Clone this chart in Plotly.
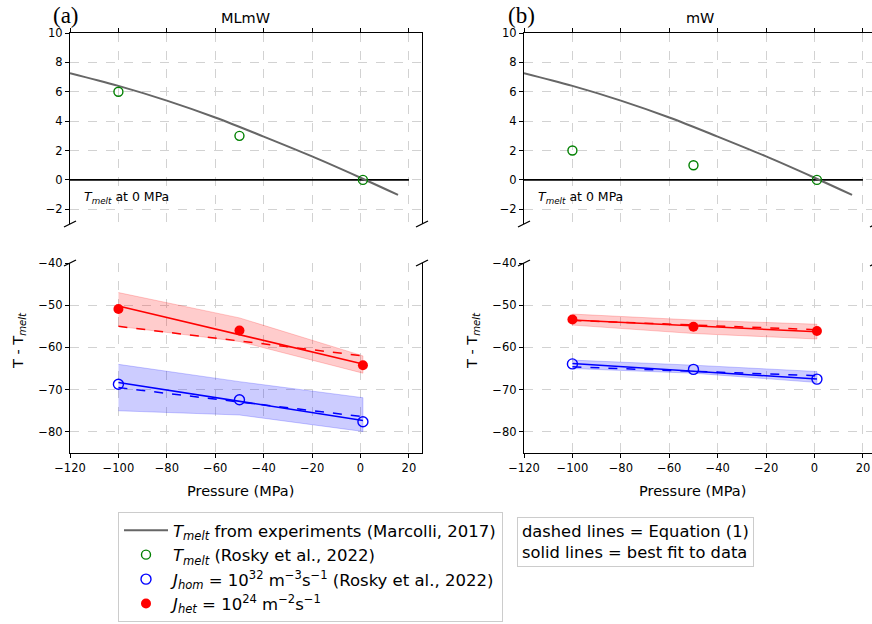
import plotly.graph_objects as go

# ---------------- data ----------------
pressure_pts = [-100, -50, 1]
fit_p = [-100, 1]

melt_curve_p = [-120, -100, -80, -60, -40, -20, 0, 15.5]
melt_curve_t = [7.27, 6.4, 5.4, 4.25, 2.95, 1.6, 0.15, -1.02]

# MLmW
tmelt_ml = [6, 3, 0]
jhom_ml = [-68.7, -72.4, -77.6]
jhet_ml = [-50.9, -56.0, -64.2]
fit_hom_ml = [-68.3, -77.3]
eq_hom_ml = [-69.5, -76.4]
fit_het_ml = [-50.2, -63.9]
eq_het_ml = [-55.0, -62.0]
het_hi_ml = [-47.0, -53.0, -62.0]
het_lo_ml = [-55.0, -58.6, -66.1]
hom_hi_ml = [-64.0, -68.1, -71.9]
hom_lo_ml = [-75.0, -76.0, -79.9]

# mW
tmelt_mw = [2, 1, 0]
jhom_mw = [-63.9, -65.2, -67.5]
jhet_mw = [-53.4, -55.1, -56.1]
fit_hom_mw = [-63.8, -67.5]
eq_hom_mw = [-64.6, -66.7]
fit_het_mw = [-53.5, -56.3]
eq_het_mw = [-53.6, -55.8]
het_hi_mw = [-52.1, -53.5, -54.5]
het_lo_mw = [-54.7, -56.7, -58.0]
hom_hi_mw = [-63.0, -64.2, -65.7]
hom_lo_mw = [-65.0, -66.1, -68.3]

x_ticks = [-120, -100, -80, -60, -40, -20, 0, 20]
top_y_ticks = [-2, 0, 2, 4, 6, 8, 10]
bot_y_ticks = [-80, -70, -60, -50, -40]

# ---------------- geometry (pixels) ----------------
W, H = 872, 624
def px(x):
    return x / W
def py(y):
    return 1 - y / H

FONT = "DejaVu Sans"
RED = "#ff0000"
BLUE = "#0000ff"
GREEN = "#008000"
GREY = "#666666"

fig = go.Figure()

panels = [
    dict(xa="x", ya="y", xb="x2", yb="y2", tm=tmelt_ml, jhom=jhom_ml, jhet=jhet_ml,
         fh=fit_hom_ml, eh=eq_hom_ml, ft=fit_het_ml, et=eq_het_ml,
         thi=het_hi_ml, tlo=het_lo_ml, hhi=hom_hi_ml, hlo=hom_lo_ml, leg=True),
    dict(xa="x3", ya="y3", xb="x4", yb="y4", tm=tmelt_mw, jhom=jhom_mw, jhet=jhet_mw,
         fh=fit_hom_mw, eh=eq_hom_mw, ft=fit_het_mw, et=eq_het_mw,
         thi=het_hi_mw, tlo=het_lo_mw, hhi=hom_hi_mw, hlo=hom_lo_mw, leg=False),
]

for p in panels:
    # top panel
    fig.add_trace(go.Scatter(x=[-120, 20], y=[0, 0], mode="lines", xaxis=p["xa"], yaxis=p["ya"],
                             line=dict(color="black", width=1.8), showlegend=False, hoverinfo="skip"))
    fig.add_trace(go.Scatter(x=melt_curve_p, y=melt_curve_t, mode="lines", line_shape="spline",
                             xaxis=p["xa"], yaxis=p["ya"], line=dict(color=GREY, width=2),
                             name="<i>T</i><sub><i>melt</i></sub> from experiments (Marcolli, 2017)",
                             showlegend=p["leg"], legendrank=1))
    fig.add_trace(go.Scatter(x=pressure_pts, y=p["tm"], mode="markers", xaxis=p["xa"], yaxis=p["ya"],
                             marker=dict(symbol="circle-open", size=9, color=GREEN, line=dict(width=1.4)),
                             name="<i>T</i><sub><i>melt</i></sub> (Rosky et al., 2022)",
                             showlegend=p["leg"], legendrank=2))
    # bottom panel bands
    for hi, lo, col in [(p["thi"], p["tlo"], "rgba(255,0,0,0.2)"), (p["hhi"], p["hlo"], "rgba(0,0,255,0.2)")]:
        fig.add_trace(go.Scatter(x=pressure_pts + pressure_pts[::-1], y=hi + lo[::-1], fill="toself",
                                 fillcolor=col, mode="lines", line=dict(color=col, width=1),
                                 xaxis=p["xb"], yaxis=p["yb"], showlegend=False, hoverinfo="skip"))
    # lines
    for yv, col, dash in [(p["ft"], RED, "solid"), (p["et"], RED, "dash"),
                          (p["fh"], BLUE, "solid"), (p["eh"], BLUE, "dash")]:
        fig.add_trace(go.Scatter(x=fit_p, y=yv, mode="lines", line=dict(color=col, width=1.5, dash=dash),
                                 xaxis=p["xb"], yaxis=p["yb"], showlegend=False, hoverinfo="skip"))
    fig.add_trace(go.Scatter(x=pressure_pts, y=p["jhom"], mode="markers", xaxis=p["xb"], yaxis=p["yb"],
                             marker=dict(symbol="circle-open", size=10, color=BLUE, line=dict(width=1.4)),
                             name="<i>J</i><sub><i>hom</i></sub> = 10<sup>32</sup> m<sup>−3</sup>s<sup>−1</sup> (Rosky et al., 2022)",
                             showlegend=p["leg"], legendrank=3))
    fig.add_trace(go.Scatter(x=pressure_pts, y=p["jhet"], mode="markers", xaxis=p["xb"], yaxis=p["yb"],
                             marker=dict(symbol="circle", size=10, color=RED),
                             name="<i>J</i><sub><i>het</i></sub> = 10<sup>24</sup> m<sup>−2</sup>s<sup>−1</sup>",
                             showlegend=p["leg"], legendrank=4))

# ---------------- axes ----------------
left_dom = [px(70), px(422)]
right_dom = [px(524), 1.0]
top_dom = [py(224), py(33)]
bot_dom = [py(453), py(263)]
left_range = [-120, 25.4]
right_range = [-120, -120 + 348 / 2.421]

grid = dict(showgrid=True, gridcolor="#d2d2d2", griddash="dash", gridwidth=1, zeroline=False)
tickf = dict(family=FONT, size=11.5, color="black")

def xax(dom, rng, top, anchor):
    d = dict(domain=dom, range=rng, anchor=anchor, tickvals=x_ticks, showline=True, linecolor="black",
             linewidth=1.2, ticks="outside", ticklen=4, tickcolor="black", tickfont=tickf,
             automargin=False, **grid)
    if top:
        d.update(side="top", showticklabels=False)
    return d

def yax(dom, rng, ticks, anchor, mirror):
    return dict(domain=dom, range=rng, anchor=anchor, tickvals=ticks, showline=True, linecolor="black",
                linewidth=1.2, mirror=mirror, ticks="outside", ticklen=4, tickcolor="black",
                tickfont=tickf, automargin=False, **grid)

fig.update_layout(
    xaxis=xax(left_dom, left_range, True, "y"),
    yaxis=yax(top_dom, [-3, 10], top_y_ticks, "x", True),
    xaxis2=xax(left_dom, left_range, False, "y2"),
    yaxis2=yax(bot_dom, [-85, -40], bot_y_ticks, "x2", True),
    xaxis3=xax(right_dom, right_range, True, "y3"),
    yaxis3=yax(top_dom, [-3, 10], top_y_ticks, "x3", False),
    xaxis4=xax(right_dom, right_range, False, "y4"),
    yaxis4=yax(bot_dom, [-85, -40], bot_y_ticks, "x4", False),
)

# ---------------- break marks ----------------
shapes = []
for cx in [70, 422, 524, 876]:
    for cy in [224, 263]:
        shapes.append(dict(type="line", xref="paper", yref="paper",
                           x0=px(cx - 6), y0=py(cy + 3), x1=px(cx + 6), y1=py(cy - 3),
                           line=dict(color="black", width=1.3)))

# ---------------- annotations ----------------
ann = []
lab = dict(family=FONT, size=14.5, color="black")
def note(text, x, y, font, xanchor="center", **kw):
    d = dict(text=text, x=x, y=y, xref="paper", yref="paper", xanchor=xanchor, yanchor="middle",
             showarrow=False, font=font)
    d.update(kw)
    ann.append(d)

serif = dict(family="Liberation Serif", size=23, color="black")
note("(a)", px(51), py(15), serif, xanchor="left")
note("(b)", px(506), py(15), serif, xanchor="left")
note("MLmW", px(246), py(18), lab)
note("mW", px(700), py(18), lab)
for xl in [240.5, 692]:
    note("Pressure (MPa)", px(xl), py(491), lab)
for yl in [19, 473]:
    note("T - T<sub><i>melt</i></sub>", px(yl), py(341), lab, textangle=-90)
for xr, yr in [("x", "y"), ("x3", "y3")]:
    ann.append(dict(text="<i>T</i><sub><i>melt</i></sub> at 0 MPa", x=-115.2, y=-1.22, xref=xr, yref=yr,
                    xanchor="left", yanchor="middle", showarrow=False,
                    font=dict(family=FONT, size=12.5, color="black")))
ann.append(dict(text="dashed lines = Equation (1)<br>solid lines = best fit to data", align="left",
                x=px(517), y=py(517), xref="paper", yref="paper", xanchor="left", yanchor="top",
                showarrow=False, bgcolor="white", bordercolor="#cccccc", borderwidth=1, borderpad=4,
                font=dict(family=FONT, size=16.3, color="black")))

fig.update_layout(
    width=W, height=H, autosize=False,
    margin=dict(l=0, r=0, t=0, b=0, autoexpand=False),
    plot_bgcolor="white", paper_bgcolor="white",
    font=dict(family=FONT, color="black"),
    shapes=shapes, annotations=ann,
    legend=dict(x=px(118), y=py(512), xanchor="left", yanchor="top", bgcolor="white",
                bordercolor="#cccccc", borderwidth=1, font=dict(family=FONT, size=16.5, color="black"),
                traceorder="normal", itemwidth=44),
)

fig.write_html("out.html", config={"displayModeBar": False},
               post_script="document.body.style.margin='0px';document.body.style.padding='0px';")
